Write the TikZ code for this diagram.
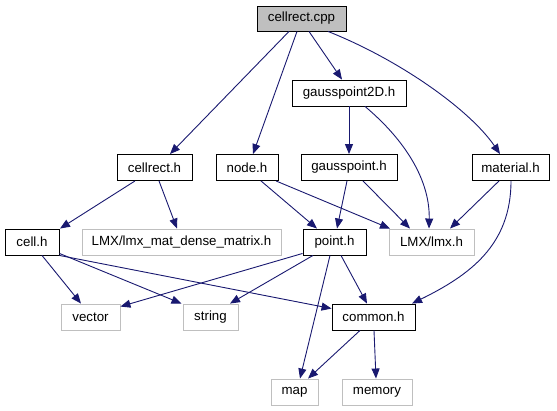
\documentclass[tikz,border=0pt]{standalone}
\usepackage{fontspec}
\setmainfont{Liberation Sans}
\usetikzlibrary{arrows.meta}
\definecolor{edgeblue}{HTML}{191970}
\definecolor{extgray}{HTML}{BFBFBF}
\begin{document}
\begin{tikzpicture}[x=1pt,y=-1pt,
 box/.style={draw, line width=0.9pt, minimum height=26pt, inner sep=0pt, font=\fontsize{13.3}{16}\selectfont, anchor=center},
 doc/.style={box, draw=black},
 ext/.style={box, draw=extgray},
 dep/.style={draw=edgeblue, line width=0.9pt, -{Triangle[length=10pt,width=8pt]}}]
\useasboundingbox (0,0) rectangle (557,411);
\node[doc, fill=extgray, minimum width=89pt, minimum height=25pt] (cpp) at (301.5,18.5) {cellrect.cpp};
\node[doc, minimum width=114pt] (g2d) at (349,93) {gausspoint2D.h};
\node[doc, minimum width=75pt] (crh) at (154.5,167.5) {cellrect.h};
\node[doc, minimum width=62pt] (nodeh) at (247,167.5) {node.h};
\node[doc, minimum width=96pt] (gp) at (349,167.5) {gausspoint.h};
\node[doc, minimum width=77pt] (mat) at (510.5,167.5) {material.h};
\node[doc, minimum width=54pt] (cell) at (32,242) {cell.h};
\node[ext, minimum width=199pt] (dense) at (181.5,242) {LMX/lmx\_mat\_dense\_matrix.h};
\node[doc, minimum width=63pt] (point) at (334.5,242) {point.h};
\node[ext, minimum width=85pt] (lmx) at (431.5,242) {LMX/lmx.h};
\node[ext, minimum width=59pt] (vec) at (90.5,317) {vector};
\node[ext, minimum width=55pt] (str) at (210.5,317) {string};
\node[doc, minimum width=83pt] (common) at (373.5,317) {common.h};
\node[ext, minimum width=47pt] (map) at (294.5,392) {map};
\node[ext, minimum width=70pt] (mem) at (377,392) {memory};

\draw[dep] ([xshift=-12.5pt]cpp.south) -- ([xshift=15.5pt]crh.north);
\draw[dep] ([xshift=-4.5pt]cpp.south) -- ([xshift=6pt]nodeh.north);
\draw[dep] ([xshift=7.5pt]cpp.south) -- ([xshift=-7pt]g2d.north);
\draw[dep] ([xshift=26.5pt]cpp.south) .. controls (400,60) and (470,110) .. ([xshift=-10.5pt]mat.north);
\draw[dep] (g2d.south) -- (gp.north);
\draw[dep] ([xshift=16pt]g2d.south) .. controls (405,140) and (430,180) .. ([xshift=-2.5pt]lmx.north);
\draw[dep] ([xshift=-19.5pt]crh.south) -- ([xshift=28pt]cell.north);
\draw[dep] ([xshift=4.5pt]crh.south) -- ([xshift=-4.5pt]dense.north);
\draw[dep] ([xshift=14pt]nodeh.south) -- ([xshift=-17.5pt]point.north);
\draw[dep] ([xshift=29pt]nodeh.south) -- ([xshift=-41.5pt]lmx.north);
\draw[dep] ([xshift=-2pt]gp.south) -- ([xshift=2.5pt]point.north);
\draw[dep] ([xshift=14pt]gp.south) -- ([xshift=-21.5pt]lmx.north);
\draw[dep] ([xshift=-11.5pt]mat.south) -- ([xshift=18.5pt]lmx.north);
\draw[dep] ([xshift=0.5pt]mat.south) .. controls (511,245) and (470,275) .. ([xshift=38.5pt]common.north);
\draw[dep] ([xshift=10pt]cell.south) -- ([xshift=-9.5pt]vec.north);
\draw[dep] ([yshift=2pt]cell.south east) -- ([xshift=-29pt]str.north);
\draw[dep] (cell.south east) -- ([yshift=-5pt]common.north west);
\draw[dep] ([yshift=2pt]point.south west) -- ([yshift=-3pt]vec.north east);
\draw[dep] ([xshift=-21.5pt]point.south) -- ([xshift=19.5pt]str.north);
\draw[dep] ([xshift=-4.5pt]point.south) -- ([xshift=5.5pt]map.north);
\draw[dep] ([xshift=6.5pt]point.south) -- ([xshift=-6.5pt]common.north);
\draw[dep] ([xshift=-13.5pt]common.south) -- ([xshift=13.5pt]map.north);
\draw[dep] ([xshift=0.5pt]common.south) -- ([xshift=-1pt]mem.north);
\end{tikzpicture}
\end{document}
